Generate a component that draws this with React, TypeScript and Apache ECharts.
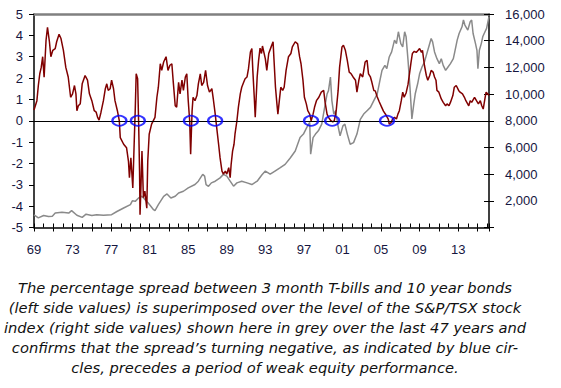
import React, { useEffect, useRef } from 'react';
import * as echarts from 'echarts';

// Spread between 3-month T-bills and 10-year bonds (left axis, %)
const spread: [number, number][] = [
  [1969.0, 0.5], [1969.3, 0.94], [1969.45, 1.65], [1969.6, 2.2], [1969.75, 2.5], [1969.9, 3.0],
  [1970.05, 2.04], [1970.25, 3.77], [1970.4, 4.37], [1970.6, 3.7], [1970.75, 3.0], [1970.95, 3.3],
  [1971.2, 3.38], [1971.35, 3.7], [1971.6, 4.05], [1971.8, 3.85], [1972.05, 3.3], [1972.3, 2.5],
  [1972.55, 2.05], [1972.8, 1.1], [1973.0, 1.26], [1973.2, 1.65], [1973.35, 1.26], [1973.45, 0.47],
  [1973.6, 0.7], [1973.8, 0.8], [1974.0, 1.73], [1974.3, 2.12], [1974.55, 1.9], [1974.75, 1.26],
  [1975.0, 0.94], [1975.25, 0.47], [1975.45, 0.4], [1975.6, 0.16], [1975.75, 0.03], [1975.95, 0.4],
  [1976.2, 0.94], [1976.4, 1.5], [1976.55, 1.73], [1976.7, 1.42], [1976.9, 1.5], [1977.05, 1.9],
  [1977.25, 1.5], [1977.4, 0.94], [1977.65, 0.47], [1977.85, 0.0], [1977.95, -0.79], [1978.3, -1.1],
  [1978.6, -1.26], [1978.8, -1.9], [1978.9, -2.67], [1979.05, -1.73], [1979.25, -3.15], [1979.4, -0.94],
  [1979.5, 0.47], [1979.6, 2.2], [1979.75, 1.97], [1979.85, 0.0], [1979.95, -2.36], [1980.0, -4.4],
  [1980.1, -3.0], [1980.2, -1.42], [1980.35, -3.6], [1980.5, -3.3], [1980.7, -4.1], [1980.8, -1.9],
  [1980.95, -0.63], [1981.2, -0.16], [1981.55, 0.16], [1981.75, 1.1], [1981.9, 1.57], [1982.1, 2.67],
  [1982.25, 2.36], [1982.45, 2.75], [1982.7, 3.0], [1982.9, 2.36], [1983.1, 2.6], [1983.3, 2.67],
  [1983.45, 1.8], [1983.65, 0.7], [1983.8, 0.63], [1984.0, 1.8], [1984.15, 1.26], [1984.35, 1.9],
  [1984.5, 1.42], [1984.7, 2.05], [1984.85, 2.2], [1985.0, 0.94], [1985.15, 0.0], [1985.25, -1.57],
  [1985.4, 0.47], [1985.5, 1.1], [1985.7, 0.94], [1985.9, 1.18], [1986.05, 1.73], [1986.25, 2.2],
  [1986.4, 1.65], [1986.6, 1.8], [1986.8, 2.36], [1987.0, 1.65], [1987.2, 1.34], [1987.45, 1.5],
  [1987.6, 1.02], [1987.8, 0.31], [1987.95, -0.31], [1988.15, -1.1], [1988.3, -1.73], [1988.5, -2.36],
  [1988.65, -2.5], [1988.85, -2.36], [1989.0, -2.5], [1989.2, -2.2], [1989.35, -2.67], [1989.45, -2.05],
  [1989.6, -1.42], [1989.75, -1.1], [1989.85, -0.63], [1990.05, 0.0], [1990.2, 0.63], [1990.4, 1.26],
  [1990.55, 1.57], [1990.75, 1.8], [1990.9, 1.97], [1991.1, 2.05], [1991.25, 2.44], [1991.45, 3.22],
  [1991.6, 3.38], [1991.7, 2.36], [1991.85, 1.1], [1991.95, 0.16], [1992.15, 2.05], [1992.3, 2.83],
  [1992.45, 3.4], [1992.6, 3.15], [1992.7, 3.5], [1993.0, 2.9], [1993.15, 2.36], [1993.35, 3.15],
  [1993.6, 3.46], [1993.8, 3.7], [1993.9, 2.83], [1994.05, 1.57], [1994.2, 0.79], [1994.3, 0.31],
  [1994.45, 0.94], [1994.6, 1.57], [1994.8, 1.42], [1994.95, 1.57], [1995.15, 2.36], [1995.4, 3.0],
  [1995.65, 3.15], [1995.8, 3.46], [1996.1, 3.7], [1996.35, 3.6], [1996.55, 3.0], [1996.7, 2.67],
  [1996.9, 1.9], [1997.05, 1.1], [1997.25, 0.79], [1997.4, 0.47], [1997.6, 0.31], [1997.75, 0.0],
  [1997.95, 0.31], [1998.1, 0.63], [1998.3, 0.94], [1998.55, 1.1], [1998.8, 1.34], [1999.05, 1.42],
  [1999.2, 0.86], [1999.4, 0.31], [1999.55, 0.16], [1999.8, 0.0], [2000.0, -0.05], [2000.15, 0.0],
  [2000.35, 0.47], [2000.55, 1.42], [2000.7, 2.5], [2000.95, 3.46], [2001.1, 3.54], [2001.3, 3.3],
  [2001.5, 2.83], [2001.7, 2.28], [2001.9, 2.2], [2002.1, 2.05], [2002.35, 1.9], [2002.5, 1.34],
  [2002.7, 1.9], [2002.85, 2.2], [2003.1, 2.05], [2003.35, 2.75], [2003.55, 2.83], [2003.7, 2.2],
  [2003.9, 2.05], [2004.05, 1.8], [2004.25, 1.42], [2004.4, 1.4], [2004.6, 1.12], [2004.8, 0.9],
  [2005.05, 0.65], [2005.25, 0.45], [2005.5, 0.28], [2005.75, 0.08], [2005.85, -0.16], [2006.05, -0.08],
  [2006.2, 0.08], [2006.4, 0.16], [2006.6, 0.08], [2006.75, 0.31], [2006.9, 0.47], [2007.1, 0.94],
  [2007.25, 1.34], [2007.4, 1.1], [2007.6, 1.3], [2007.8, 1.7], [2007.95, 2.2], [2008.1, 2.7],
  [2008.25, 3.15], [2008.45, 3.25], [2008.65, 3.2], [2008.85, 3.3], [2009.0, 3.38], [2009.2, 3.2],
  [2009.3, 3.3], [2009.5, 2.6], [2009.7, 2.12], [2009.85, 1.9], [2010.05, 2.12], [2010.2, 2.36],
  [2010.4, 2.28], [2010.55, 2.05], [2010.7, 1.9], [2010.8, 1.42], [2011.0, 1.34], [2011.25, 1.02],
  [2011.45, 0.86], [2011.7, 0.7], [2011.85, 0.79], [2012.05, 0.7], [2012.2, 0.86], [2012.45, 1.18],
  [2012.6, 1.57], [2012.8, 1.65], [2013.05, 1.42], [2013.2, 1.34], [2013.45, 1.26], [2013.65, 1.1],
  [2013.8, 0.94], [2014.1, 0.7], [2014.25, 0.94], [2014.4, 0.86], [2014.7, 1.1], [2014.9, 0.94],
  [2015.1, 0.79], [2015.3, 0.94], [2015.45, 0.7], [2015.6, 0.55], [2015.8, 1.1], [2015.9, 1.34],
  [2016.05, 1.26], [2016.2, 1.18],
];

// S&P/TSX index level (right axis)
const tsx: [number, number][] = [
  [1969.0, 950], [1969.45, 720], [1970.0, 900], [1970.5, 820], [1970.9, 850], [1971.2, 1080],
  [1971.9, 1150], [1972.6, 1080], [1972.9, 1260], [1973.45, 920], [1974.0, 760], [1974.4, 1000],
  [1975.0, 900], [1975.5, 960], [1976.2, 910], [1977.05, 960], [1977.6, 1200], [1978.3, 1460],
  [1979.0, 1710], [1979.2, 2000], [1979.5, 1960], [1979.85, 2210], [1980.2, 2340], [1980.5, 2100],
  [1980.85, 1835], [1981.4, 1335], [1981.55, 1260], [1981.9, 1710], [1982.45, 2340], [1982.8, 2515],
  [1983.2, 2210], [1983.65, 2340], [1984.0, 2590], [1984.5, 2717], [1985.0, 2966], [1985.7, 3220],
  [1986.05, 3470], [1986.5, 3980], [1986.7, 3850], [1986.85, 3220], [1987.1, 3090], [1987.4, 3345],
  [1987.8, 3470], [1988.3, 3720], [1988.65, 3980], [1989.0, 3850], [1989.35, 3470], [1989.7, 3095],
  [1990.05, 3345], [1990.55, 3470], [1991.1, 3345], [1991.6, 3220], [1992.15, 3470], [1992.65, 3950],
  [1993.0, 4230], [1993.5, 4000], [1994.0, 4230], [1994.55, 4480], [1995.05, 4730], [1995.6, 5230],
  [1996.1, 5735], [1996.6, 6740], [1996.95, 7000], [1997.3, 7500], [1997.6, 7870], [1997.7, 5490],
  [1997.95, 6740], [1998.2, 7000], [1998.5, 7245], [1998.85, 7750], [1999.15, 9000], [1999.4, 10000],
  [1999.55, 10260], [1999.75, 11270], [1999.9, 9510], [2000.1, 8500], [2000.3, 8750], [2000.5, 7750],
  [2000.75, 6870], [2001.05, 7620], [2001.25, 7750], [2001.5, 7000], [2001.8, 6240], [2002.15, 6360],
  [2002.5, 7000], [2002.85, 8100], [2003.2, 8500], [2003.55, 8750], [2003.9, 9000], [2004.25, 9510],
  [2004.6, 10000], [2004.85, 10890], [2005.1, 11770], [2005.4, 12150], [2005.6, 11900], [2005.85, 12780],
  [2006.1, 13160], [2006.4, 14040], [2006.6, 13780], [2006.8, 14670], [2007.05, 13780], [2007.25, 13530],
  [2007.45, 14670], [2007.6, 14290], [2007.8, 12530], [2008.0, 10520], [2008.15, 8750], [2008.2, 8130],
  [2008.4, 9260], [2008.55, 10020], [2008.8, 10770], [2009.0, 11520], [2009.25, 12030], [2009.5, 12400],
  [2009.75, 13030], [2010.0, 13660], [2010.2, 14160], [2010.35, 13910], [2010.55, 13160], [2010.8, 12650],
  [2011.05, 12280], [2011.25, 12650], [2011.45, 12150], [2011.7, 11770], [2011.95, 12030], [2012.2, 12280],
  [2012.5, 12650], [2012.65, 13160], [2012.9, 14040], [2013.1, 14540], [2013.4, 15040], [2013.55, 15550],
  [2013.7, 15170], [2014.0, 14790], [2014.25, 15420], [2014.4, 15550], [2014.55, 14540], [2014.8, 13780],
  [2014.95, 13280], [2015.05, 11900], [2015.2, 13280], [2015.4, 13780], [2015.55, 14290], [2015.7, 14540],
  [2015.95, 14920], [2016.2, 15800],
];

// Years where the spread turned negative (blue circles)
const turningYears: number[] = [1977.86, 1979.77, 1985.28, 1987.79, 1997.74, 1999.93, 2005.62];

const xMin = 1969;
const xMax = 2016.2;
const leftMin = -5;
const leftMax = 5;
const rightMin = 0;
const rightMax = 16000;

const captionLines: string[] = [
  'The percentage spread between 3 month T-bills and 10 year bonds',
  '(left side values) is superimposed over the level of the S&P/TSX stock',
  'index (right side values) shown here in grey over the last 47 years and',
  'confirms that the spread\u2019s turning negative, as indicated by blue cir-',
  'cles, precedes a period of weak equity performance.',
];

const labelColor = '#16163f';
const labelFont = 'Liberation Sans';
const captionFont = 'DejaVu Sans';

export default function App() {
  const ref = useRef<HTMLDivElement>(null);
  useEffect(() => {
    if (!ref.current) return;
    const chart = echarts.init(ref.current, undefined, { renderer: 'svg' });
    const option: any = {
      animation: false,
      grid: { left: 34, right: 72, top: 14, bottom: 160.5, containLabel: false },
      xAxis: [
        {
          type: 'value', min: xMin, max: xMax, interval: 1, position: 'bottom',
          axisLine: { show: true, onZero: false, lineStyle: { color: '#000', width: 1.5 } },
          axisTick: { show: true, inside: true, length: 4, lineStyle: { color: '#000', width: 1 } },
          axisLabel: {
            show: true, margin: 15, color: labelColor, fontSize: 13, fontFamily: labelFont,
            formatter: (v: number) =>
              Number.isInteger(v) && (v - xMin) % 4 === 0 ? String(v % 100).padStart(2, '0') : '',
          },
          splitLine: { show: false },
        },
        {
          type: 'value', min: xMin, max: xMax, interval: 2, position: 'bottom',
          axisLine: { show: false, onZero: false },
          axisTick: { show: true, inside: false, length: 4, lineStyle: { color: '#000', width: 1 } },
          axisLabel: { show: false },
          splitLine: { show: false },
        },
        {
          type: 'value', min: xMin, max: xMax, position: 'top',
          axisLine: { show: true, onZero: false, lineStyle: { color: '#808080', width: 2.5 } },
          axisTick: { show: false }, axisLabel: { show: false }, splitLine: { show: false },
        },
      ],
      yAxis: [
        {
          type: 'value', min: leftMin, max: leftMax, interval: 1, position: 'left',
          axisLine: { show: true, onZero: false, lineStyle: { color: '#000', width: 1.5 } },
          axisTick: { show: true, length: 5, lineStyle: { color: '#000', width: 1 } },
          axisLabel: { margin: 11, color: labelColor, fontSize: 13, fontFamily: labelFont },
          splitLine: { show: false },
        },
        {
          type: 'value', min: rightMin, max: rightMax, interval: 2000, position: 'right',
          axisLine: { show: true, onZero: false, lineStyle: { color: '#000', width: 1.5 } },
          axisTick: { show: true, length: 5, lineStyle: { color: '#000', width: 1 } },
          axisLabel: {
            margin: 16, color: labelColor, fontSize: 13, fontFamily: labelFont,
            formatter: (v: number) => (v === 0 ? '' : v.toLocaleString('en-US')),
          },
          splitLine: { show: false },
        },
        {
          type: 'value', min: rightMin, max: rightMax, interval: 2000, position: 'right',
          axisLine: { show: false, onZero: false },
          axisTick: { show: true, inside: true, length: 5, lineStyle: { color: '#000', width: 1 } },
          axisLabel: { show: false },
          splitLine: { show: false },
        },
      ],
      series: [
        {
          name: 'S&P/TSX', type: 'line', xAxisIndex: 0, yAxisIndex: 1, data: tsx,
          showSymbol: false, symbol: 'none',
          lineStyle: { color: '#8a8a8a', width: 1.5 },
          z: 2,
        },
        {
          name: 'Spread', type: 'line', xAxisIndex: 0, yAxisIndex: 0, data: spread,
          showSymbol: false, symbol: 'none',
          lineStyle: { color: '#800000', width: 1.5 },
          z: 3,
          markLine: {
            silent: true, symbol: 'none', label: { show: false },
            lineStyle: { color: '#000', width: 1.2, type: 'solid' },
            data: [{ yAxis: 0 }],
          },
        },
        {
          name: 'Turning negative', type: 'scatter', xAxisIndex: 0, yAxisIndex: 0,
          data: turningYears.map((y) => [y, 0]),
          symbol: 'circle', symbolSize: [14, 10],
          itemStyle: { color: 'rgba(0,0,0,0)', borderColor: '#0000ff', borderWidth: 2 },
          z: 5,
        },
      ],
      graphic: captionLines.map((t, i) => ({
        type: 'text',
        x: 265,
        y: 287 + i * 20,
        style: {
          text: t,
          fontFamily: captionFont,
          fontStyle: 'italic',
          fontSize: 14.7,
          fill: '#111',
          align: 'center',
          verticalAlign: 'middle',
        },
      })),
    };
    chart.setOption(option);
    return () => chart.dispose();
  }, []);
  return (
    <div
      ref={ref}
      style={{ position: 'absolute', left: 0, top: 0, width: 561, height: 388, background: '#fff' }}
    />
  );
}
